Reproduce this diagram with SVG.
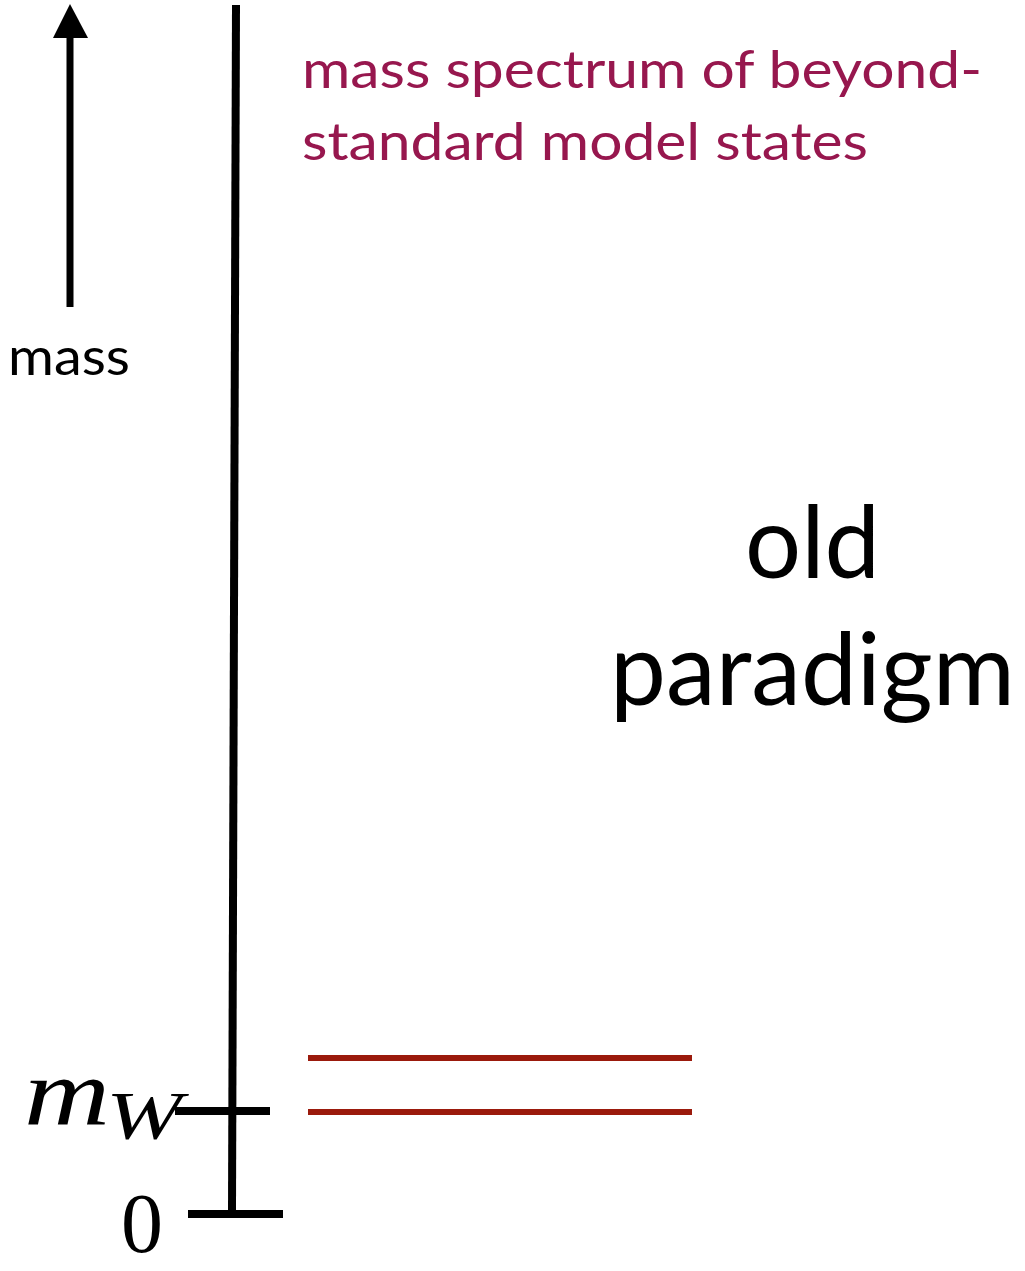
<svg xmlns="http://www.w3.org/2000/svg" width="1025" height="1271" viewBox="0 0 1025 1271">
<style>
.sans{font-family:Lato,"Open Sans","Liberation Sans",sans-serif}
.math{font-family:"Liberation Serif","DejaVu Serif",serif}
.blk{stroke:#000;stroke-width:8;fill:none}
.red{stroke:#9b1a0c;stroke-width:6;fill:none}
</style>
<rect width="1025" height="1271" fill="#fff"/>
<g id="mass-arrow">
<line x1="70" y1="307" x2="70" y2="34" stroke="#000" stroke-width="7"/>
<polygon points="70,4 53,38 88,38" fill="#000"/>
<text class="sans" x="8" y="375" font-size="52" textLength="122" lengthAdjust="spacingAndGlyphs">mass</text>
</g>
<g id="axis">
<line class="blk" x1="236" y1="5" x2="232" y2="1210"/>
<line class="blk" x1="175" y1="1111" x2="270" y2="1111"/>
<line class="blk" x1="188" y1="1214" x2="283" y2="1214"/>
</g>
<g id="labels">
<text class="math" x="24" y="1125" font-size="96" font-style="italic" textLength="86" lengthAdjust="spacingAndGlyphs">m</text>
<text class="math" x="106" y="1138" font-size="68" font-style="italic" textLength="76" lengthAdjust="spacingAndGlyphs">W</text>
<text class="math" x="121" y="1252" font-size="84">0</text>
</g>
<g id="states">
<line class="red" x1="308" y1="1058" x2="692" y2="1058"/>
<line class="red" x1="308" y1="1112" x2="692" y2="1112"/>
</g>
<g id="caption" fill="#97174e">
<text class="sans" x="302" y="88" font-size="52" textLength="680" lengthAdjust="spacingAndGlyphs">mass spectrum of beyond-</text>
<text class="sans" x="302" y="160" font-size="52" textLength="566" lengthAdjust="spacingAndGlyphs">standard model states</text>
</g>
<g id="title">
<text class="sans" x="745" y="578" font-size="100" textLength="135" lengthAdjust="spacingAndGlyphs">old</text>
<text class="sans" x="610" y="705" font-size="100" textLength="405" lengthAdjust="spacingAndGlyphs">paradigm</text>
</g>
</svg>
